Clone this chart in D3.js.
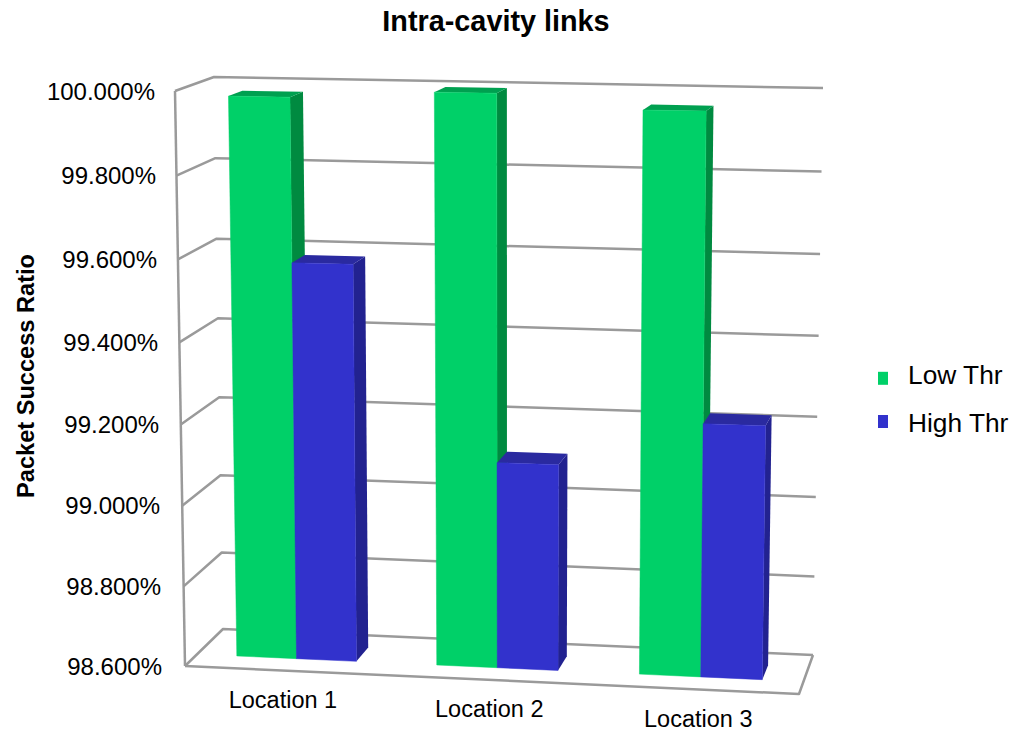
<!DOCTYPE html>
<html><head><meta charset="utf-8">
<script src="https://cdn.jsdelivr.net/npm/d3@7"></script>
<style>html,body{margin:0;background:#fff}svg{display:block}text{font-family:"Liberation Sans",Arial,sans-serif;fill:#000}</style>
</head><body><svg id="c" width="1028" height="731"></svg>
<script>
const title = "Intra-cavity links";
const yTitle = "Packet Success Ratio";
const locations = ["Location 1","Location 2","Location 3"];
const seriesNames = ["Low Thr","High Thr"];
const lowThr = [99.979,99.997,99.964];
const highThr = [99.582,99.110,99.222];
const yTicks = [98.6,98.8,99.0,99.2,99.4,99.6,99.8,100.0];
const colors = {"Low Thr":["#00d068","#008a40","#00a050"],"High Thr":["#3232cc","#222290","#2a2aa0"]};

const svg = d3.select("#c");
const y = d3.scaleLinear().domain([98.6,100]).range([0,1]);
const u = d3.scaleBand().domain(locations).range([0,1]).paddingInner(.4).paddingOuter(.2);
const uS = d3.scaleBand().domain(seriesNames).range([0,u.bandwidth()]);

// box corners of the chart's 3D frame (view projection)
const bottom = {fl:[185,666],fr:[799,694],bl:[223,629],br:[813,655]};
const top_ = {fl:[175,91],fr:[807,102],bl:[214,77],br:[823,88]};
const lerp=(a,b,s)=>a+(b-a)*s, lp=(a,b,s)=>[lerp(a[0],b[0],s),lerp(a[1],b[1],s)];
const warp=(s,k)=>s+k*s*(1-s);
function P(a,d,t){
  const aw=warp(a,-.02), tw=warp(t,-.035);
  const lev=c=>lp(lp(c.fl,c.fr,aw),lp(c.bl,c.br,aw),d);
  return lp(lev(bottom),lev(top_),tw);
}
const line=d3.line();
const grey="#9a9a9a";
const frame=svg.append("g").attr("fill","none").attr("stroke",grey).attr("stroke-width",2.5).attr("stroke-linejoin","round");
yTicks.forEach(v=>{
  const t=y(v);
  frame.append("path").attr("d",line([P(0,0,t),P(0,1,t),P(1,1,t)]));
});
frame.append("path").attr("d",line([P(0,0,0),P(0,0,1)]));
frame.append("path").attr("d",line([P(0,0,0),P(1,0,0),P(1,1,0)]));

const D0=.32,D1=.69;
const bars=[];
locations.forEach((l,i)=>{
  seriesNames.forEach((s,j)=>bars.push({l,s,v:(j?highThr:lowThr)[i]}));
});
const g=svg.append("g");
bars.forEach(b=>{
  const a0=u(b.l)+uS(b.s),a1=a0+uS.bandwidth(),t=y(b.v);
  const c=colors[b.s];
  g.append("path").attr("fill",c[1]).attr("d",line([P(a1,D0,0),P(a1,D1,0),P(a1,D1,t),P(a1,D0,t)])+"Z");
  g.append("path").attr("fill",c[2]).attr("d",line([P(a0,D0,t),P(a1,D0,t),P(a1,D1,t),P(a0,D1,t)])+"Z");
  g.append("path").attr("fill",c[0]).attr("stroke",c[0]).attr("stroke-width",.5).attr("d",line([P(a0,D0,0),P(a1,D0,0),P(a1,D0,t),P(a0,D0,t)])+"Z");
});

yTicks.forEach(v=>{
  const t=y(v), p=P(0,0,t);
  svg.append("text").attr("x",p[0]-20-3*(1-t)).attr("y",p[1]+8.5).attr("text-anchor","end").attr("font-size",24).text(d3.format(".3f")(v)+"%");
});
locations.forEach((l,i)=>{
  const p=P(u(l)+u.bandwidth()/2,0,0);
  svg.append("text").attr("x",p[0]-2.7+3*i).attr("y",p[1]+37.5).attr("text-anchor","middle").attr("font-size",23.5).text(l);
});
svg.append("text").attr("x",496).attr("y",30.5).attr("text-anchor","middle").attr("font-size",28.8).attr("font-weight","bold").text(title);
svg.append("text").attr("transform","translate(34,376) rotate(-90)").attr("text-anchor","middle").attr("font-size",23.6).attr("font-weight","bold").text(yTitle);
const legendSwatch=d3.scalePoint().domain(seriesNames).range([378.3,421.5]);
const legendText=d3.scalePoint().domain(seriesNames).range([384.3,431.7]);
seriesNames.forEach(s=>{
  const ly=legendSwatch(s);
  svg.append("rect").attr("x",878).attr("y",ly-6.5).attr("width",10).attr("height",13).attr("fill",colors[s][0]);
  svg.append("text").attr("x",908).attr("y",legendText(s)).attr("font-size",26.3).text(s);
});
</script></body></html>
